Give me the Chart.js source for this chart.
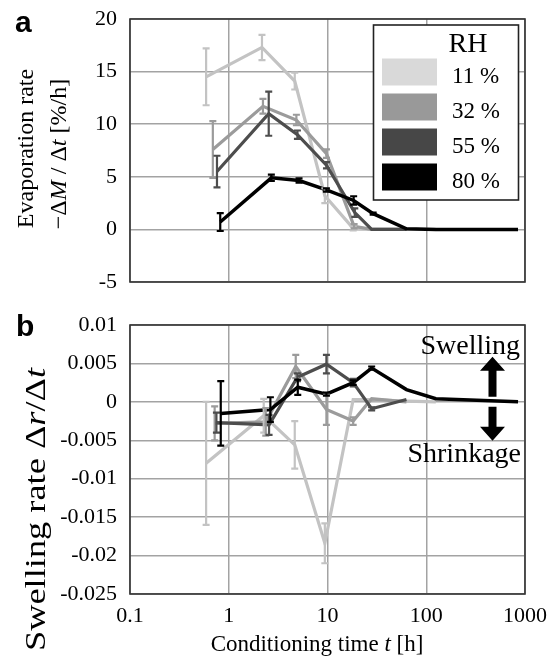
<!DOCTYPE html>
<html><head><meta charset="utf-8">
<script src="https://cdn.jsdelivr.net/npm/chart.js@4.4.1/dist/chart.umd.min.js"></script>
<style>
html,body{margin:0;padding:0;background:#fff;}
#wrap{position:relative;width:555px;height:661px;overflow:hidden;}
</style></head><body>
<div id="wrap">
<canvas id="ca" width="555" height="300" style="position:absolute;left:0;top:0"></canvas>
<canvas id="cb" width="555" height="361" style="position:absolute;left:0;top:300px"></canvas>
</div>
<script>
// ---------- data ----------
const seriesNames = ['11 %', '32 %', '55 %', '80 %'];
const lineColors = ['#c3c3c3', '#9b9b9b', '#4d4d4d', '#000000'];
const swatchColors = ['#d9d9d9', '#999999', '#474747', '#000000'];

const xTicks = [0.1, 1, 10, 100, 1000];
const xTickLabels = ['0.1', '1', '10', '100', '1000'];
const yTicksA = [-5, 0, 5, 10, 15, 20];
const yTickLabelsA = ['-5', '0', '5', '10', '15', '20'];
const yTicksB = [-0.025, -0.02, -0.015, -0.01, -0.005, 0, 0.005, 0.01];
const yTickLabelsB = ['-0.025', '-0.02', '-0.015', '-0.01', '-0.005', '0', '0.005', '0.01'];

// Panel a: evaporation rate -dM/dt [%/h]
const evapTime11 = [0.59, 2.17, 4.66, 9.4, 18.2, 28, 63, 125];
const evapRate11 = [14.5, 17.3, 14.1, 3.2, 0.1, 0, 0, 0];
const evapErr11  = [2.7, 1.2, 0.8, 0.7, 0.2, 0, 0, 0];
const evapTime32 = [0.69, 2.22, 4.84, 9.76, 18.6, 28, 63];
const evapRate32 = [7.6, 11.7, 10.4, 7.2, 0.3, 0, 0];
const evapErr32  = [2.7, 0.7, 0.5, 0.4, 0.2, 0, 0];
const evapTime55 = [0.76, 2.54, 4.96, 9.76, 18.9, 28, 63];
const evapRate55 = [5.5, 11.0, 9.0, 6.1, 1.6, 0, 0];
const evapErr55  = [1.5, 2.1, 0.4, 0.3, 0.4, 0, 0];
const evapTime80 = [0.82, 2.7, 5.15, 9.75, 18.4, 29, 63, 125, 850];
const evapRate80 = [0.7, 4.9, 4.65, 3.75, 2.75, 1.5, 0.05, 0, 0];
const evapErr80  = [0.85, 0.3, 0.2, 0.15, 0.4, 0.1, 0, 0, 0];

// Panel b: swelling rate dr/dt
const swellTime11 = [0.59, 2.26, 4.66, 9.4, 18.2, 28, 63, 125];
const swellRate11 = [-0.008, -0.0018, -0.0056, -0.0184, 0.0003, 0.0003, 0.0001, 0];
const swellErr11  = [0.008, 0.0022, 0.0031, 0.0026, 0, 0, 0, 0];
const swellTime32 = [0.72, 2.37, 4.77, 9.75, 18.2, 28, 63];
const swellRate32 = [-0.0028, -0.0026, 0.0046, -0.001, -0.0025, 0.0004, 0];
const swellErr32  = [0.0022, 0.0018, 0.0015, 0.002, 0.0005, 0, 0];
const swellTime55 = [0.75, 2.56, 4.96, 9.75, 18.2, 28, 63];
const swellRate55 = [-0.0027, -0.003, 0.0032, 0.0049, 0.0025, -0.0009, 0.0003];
const swellErr55  = [0.0013, 0.0013, 0.0005, 0.0012, 0.0005, 0.0002, 0];
const swellTime80 = [0.83, 2.64, 5.0, 9.75, 18.2, 28, 63, 125, 850];
const swellRate80 = [-0.0015, -0.001, 0.0019, 0.001, 0.0025, 0.0044, 0.0016, 0.0004, 0];
const swellErr80  = [0.0042, 0.0016, 0.001, 0.0002, 0.0003, 0.0002, 0, 0, 0];

// ---------- helpers ----------
const SERIF = "'Liberation Serif', 'Times New Roman', serif";
const SANS = "'Liberation Sans', Arial, sans-serif";

function makeDataset(i, times, vals, errs) {
  return {
    label: seriesNames[i],
    data: times.map((t, k) => ({ x: t, y: vals[k] })),
    errors: errs,
    borderColor: lineColors[i],
    backgroundColor: lineColors[i],
    borderWidth: i === 3 ? 3.5 : 3.2,
    pointRadius: 0,
    tension: 0,
    order: 4 - i
  };
}

// draws text made of plain/italic parts; if fitLen is given the run is stretched to that length
function drawRich(ctx, parts, x, y, size, align, fitLen) {
  let total = 0;
  const widths = parts.map(p => {
    ctx.font = (p.it ? 'italic ' : '') + size + 'px ' + SERIF;
    const w = ctx.measureText(p.t).width;
    total += w;
    return w;
  });
  const sx = fitLen ? fitLen / total : 1;
  ctx.save();
  ctx.translate(x, y);
  ctx.scale(sx, 1);
  let cx = align === 'center' ? -total / 2 : (align === 'right' ? -total : 0);
  ctx.textAlign = 'left';
  ctx.textBaseline = 'alphabetic';
  parts.forEach((p, k) => {
    ctx.font = (p.it ? 'italic ' : '') + size + 'px ' + SERIF;
    ctx.fillText(p.t, cx, 0);
    cx += widths[k];
  });
  ctx.restore();
}

const errorBarPlugin = {
  id: 'errorBars',
  afterDatasetsDraw(chart) {
    const ctx = chart.ctx;
    const xs = chart.scales.x, ys = chart.scales.y;
    const idxs = chart.data.datasets.map((d, i) => i).sort((a, b) => chart.data.datasets[b].order - chart.data.datasets[a].order);
    ctx.save();
    idxs.forEach(di => {
      const ds = chart.data.datasets[di];
      ctx.strokeStyle = ds.borderColor;
      ctx.lineWidth = 2.2;
      ds.data.forEach((pt, k) => {
        const e = ds.errors[k];
        if (!e) return;
        const px = xs.getPixelForValue(pt.x);
        const yt = ys.getPixelForValue(pt.y + e);
        const yb = ys.getPixelForValue(pt.y - e);
        ctx.beginPath();
        ctx.moveTo(px, yt); ctx.lineTo(px, yb);
        ctx.moveTo(px - 3.5, yt); ctx.lineTo(px + 3.5, yt);
        ctx.moveTo(px - 3.5, yb); ctx.lineTo(px + 3.5, yb);
        ctx.stroke();
      });
    });
    ctx.restore();
  }
};

const framePlugin = {
  id: 'frame',
  afterDraw(chart) {
    const a = chart.chartArea, ctx = chart.ctx;
    ctx.save();
    ctx.strokeStyle = '#333';
    ctx.lineWidth = 1.6;
    ctx.strokeRect(a.left, a.top, a.right - a.left, a.bottom - a.top);
    ctx.restore();
  }
};

function xScaleOpts(showLabels, height) {
  return {
    type: 'logarithmic',
    min: 0.1, max: 1000,
    afterBuildTicks: s => { s.ticks = xTicks.map(v => ({ value: v })); },
    afterFit: s => { s.height = height; },
    grid: { color: '#a3a3a3', lineWidth: 1.5, drawTicks: true, tickLength: 6, tickColor: 'rgba(0,0,0,0)' },
    border: { display: false },
    ticks: {
      display: showLabels,
      autoSkip: false,
      maxRotation: 0,
      padding: 3,
      color: '#000',
      font: { family: SERIF, size: 22 },
      callback: (v, i) => xTickLabels[i]
    }
  };
}

function yScaleOpts(ticks, labels) {
  return {
    type: 'linear',
    min: ticks[0], max: ticks[ticks.length - 1],
    afterBuildTicks: s => { s.ticks = ticks.map(v => ({ value: v })); },
    afterFit: s => { s.width = 130; },
    grid: { color: '#a3a3a3', lineWidth: 1.5, drawTicks: true, tickLength: 10, tickColor: 'rgba(0,0,0,0)' },
    border: { display: false },
    ticks: {
      autoSkip: false,
      padding: 3,
      color: '#000',
      font: { family: SERIF, size: 22 },
      callback: (v, i) => labels[i]
    }
  };
}

// ---------- panel a ----------
const panelADecor = {
  id: 'panelADecor',
  afterDraw(chart) {
    const ctx = chart.ctx;
    ctx.save();
    ctx.fillStyle = '#000';
    ctx.font = 'bold 30px ' + SANS;
    ctx.textAlign = 'left'; ctx.textBaseline = 'alphabetic';
    ctx.fillText('a', 15, 32);
    ctx.save();
    ctx.translate(33, 148.5);
    ctx.rotate(-Math.PI / 2);
    drawRich(ctx, [{ t: 'Evaporation rate' }], 0, 0, 24, 'center');
    ctx.restore();
    ctx.save();
    ctx.translate(66, 154);
    ctx.rotate(-Math.PI / 2);
    drawRich(ctx, [{ t: '\u2212\u0394' }, { t: 'M', it: true }, { t: ' / \u0394' }, { t: 't', it: true }, { t: ' [%/h]' }], 0, 0, 24, 'center');
    ctx.restore();
    // legend
    const L = 373.5, T = 25, R = 518.5, B = 200;
    ctx.fillStyle = '#fff';
    ctx.fillRect(L, T, R - L, B - T);
    ctx.strokeStyle = '#222';
    ctx.lineWidth = 1.6;
    ctx.strokeRect(L, T, R - L, B - T);
    ctx.fillStyle = '#000';
    ctx.font = '28px ' + SERIF;
    ctx.textAlign = 'center';
    ctx.fillText('RH', 468, 52);
    seriesNames.forEach((n, i) => {
      const top = 58.5 + i * 35;
      ctx.fillStyle = swatchColors[i];
      ctx.fillRect(382, top, 55, 27);
      ctx.fillStyle = '#000';
      ctx.font = '23px ' + SERIF;
      ctx.textAlign = 'left';
      ctx.fillText(n, 452, top + 24.5);
    });
    ctx.restore();
  }
};

new Chart(document.getElementById('ca'), {
  type: 'line',
  data: {
    datasets: [
      makeDataset(0, evapTime11, evapRate11, evapErr11),
      makeDataset(1, evapTime32, evapRate32, evapErr32),
      makeDataset(2, evapTime55, evapRate55, evapErr55),
      makeDataset(3, evapTime80, evapRate80, evapErr80)
    ]
  },
  options: {
    responsive: false,
    animation: false,
    devicePixelRatio: 1,
    layout: { padding: { left: 0, right: 30, top: 19, bottom: 0 } },
    plugins: { legend: { display: false }, tooltip: { enabled: false } },
    scales: { x: xScaleOpts(false, 18), y: yScaleOpts(yTicksA, yTickLabelsA) }
  },
  plugins: [errorBarPlugin, framePlugin, panelADecor]
});

// ---------- panel b ----------
function arrow(ctx, x, yTip, yBase, yEnd, headW, shaftW) {
  ctx.beginPath();
  ctx.moveTo(x, yTip);
  ctx.lineTo(x + headW / 2, yBase);
  ctx.lineTo(x + shaftW / 2, yBase);
  ctx.lineTo(x + shaftW / 2, yEnd);
  ctx.lineTo(x - shaftW / 2, yEnd);
  ctx.lineTo(x - shaftW / 2, yBase);
  ctx.lineTo(x - headW / 2, yBase);
  ctx.closePath();
  ctx.fill();
}

const panelBDecor = {
  id: 'panelBDecor',
  afterDraw(chart) {
    const ctx = chart.ctx;
    const y0 = chart.scales.y.getPixelForValue(0);
    ctx.save();
    ctx.fillStyle = '#000';
    ctx.font = 'bold 30px ' + SANS;
    ctx.textAlign = 'left'; ctx.textBaseline = 'alphabetic';
    ctx.fillText('b', 16, 36);
    ctx.save();
    ctx.translate(45, 209.5);
    ctx.rotate(-Math.PI / 2);
    drawRich(ctx, [{ t: 'Swelling rate \u0394' }, { t: 'r', it: true }, { t: '/\u0394' }, { t: 't', it: true }], 0, 0, 30, 'center', 283);
    ctx.restore();
    drawRich(ctx, [{ t: 'Conditioning time ' }, { t: 't', it: true }, { t: ' [h]' }], 317, 351, 23, 'center');
    drawRich(ctx, [{ t: 'Swelling' }], 520, 54, 28, 'right');
    drawRich(ctx, [{ t: 'Shrinkage' }], 521, 161.5, 28, 'right');
    arrow(ctx, 492.5, y0 - 45, y0 - 31, y0 - 5, 25, 8);
    arrow(ctx, 492.5, y0 + 39, y0 + 25, y0 + 5, 25, 8);
    ctx.restore();
  }
};

new Chart(document.getElementById('cb'), {
  type: 'line',
  data: {
    datasets: [
      makeDataset(0, swellTime11, swellRate11, swellErr11),
      makeDataset(1, swellTime32, swellRate32, swellErr32),
      makeDataset(2, swellTime55, swellRate55, swellErr55),
      makeDataset(3, swellTime80, swellRate80, swellErr80)
    ]
  },
  options: {
    responsive: false,
    animation: false,
    devicePixelRatio: 1,
    layout: { padding: { left: 0, right: 30, top: 25, bottom: 0 } },
    plugins: { legend: { display: false }, tooltip: { enabled: false } },
    scales: { x: xScaleOpts(true, 67), y: yScaleOpts(yTicksB, yTickLabelsB) }
  },
  plugins: [errorBarPlugin, framePlugin, panelBDecor]
});
</script>
</body></html>
